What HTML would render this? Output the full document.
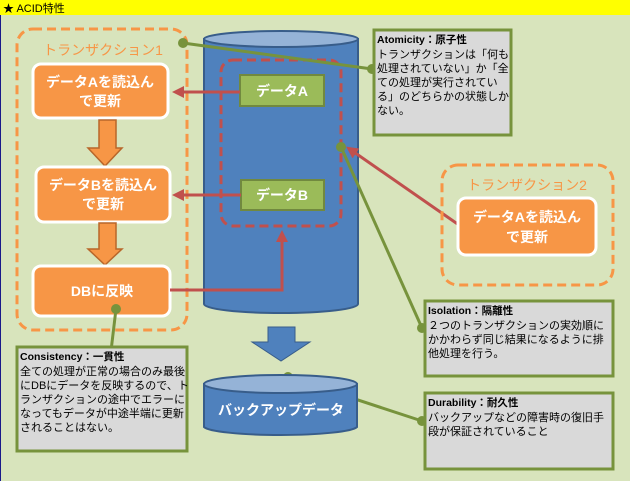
<!DOCTYPE html>
<html><head><meta charset="utf-8"><style>
html,body{margin:0;padding:0;background:#d8e4bc}
svg{display:block}
.t{font-family:"Liberation Sans","Noto Sans CJK JP",sans-serif}
</style></head><body>
<svg width="630" height="481" viewBox="0 0 630 481" class="t">
<defs>
<marker id="ar" markerWidth="4" markerHeight="4" refX="2" refY="2" orient="auto" markerUnits="strokeWidth"><path d="M0,0 L4,2 L0,4 Z" fill="#c0504d"/></marker>
</defs>
<rect x="0" y="0" width="630" height="481" fill="#d8e4bc"/>
<rect x="0" y="0" width="630" height="15" fill="#ffff00"/>
<line x1="0.5" y1="15" x2="0.5" y2="481" stroke="#1a1a8a" stroke-width="1"/>
<text x="3" y="12" font-size="11" fill="#000">★ ACID特性</text>

<!-- Transaction 1 -->
<rect x="17" y="29" width="170" height="301" rx="16" fill="none" stroke="#f79646" stroke-width="3" stroke-dasharray="9,5"/>
<text x="103" y="55" font-size="14" fill="#f79646" text-anchor="middle">トランザクション1</text>
<rect x="33" y="64" width="135" height="54" rx="8" fill="#f79646" stroke="#fff" stroke-width="3"/>
<text x="100" y="87" font-size="14" font-weight="bold" fill="#fff" text-anchor="middle">データAを読込ん</text>
<text x="100" y="106" font-size="14" font-weight="bold" fill="#fff" text-anchor="middle">で更新</text>
<path d="M99,120 H116 V148 H122 L105,166 L88,148 H99 Z" fill="#f79646" stroke="#b8662a" stroke-width="1.5"/>
<rect x="36" y="167" width="134" height="55" rx="8" fill="#f79646" stroke="#fff" stroke-width="3"/>
<text x="103" y="190" font-size="14" font-weight="bold" fill="#fff" text-anchor="middle">データBを読込ん</text>
<text x="103" y="209" font-size="14" font-weight="bold" fill="#fff" text-anchor="middle">で更新</text>
<path d="M99,223 H116 V249 H122 L105,265 L88,249 H99 Z" fill="#f79646" stroke="#b8662a" stroke-width="1.5"/>
<rect x="33" y="266" width="137" height="50" rx="8" fill="#f79646" stroke="#fff" stroke-width="3"/>
<text x="102" y="296" font-size="14" font-weight="bold" fill="#fff" text-anchor="middle">DBに反映</text>

<!-- Main cylinder -->
<path d="M204,39 V304 A77,9 0 0 0 358,304 V39 Z" fill="#4f81bd" stroke="#385d8a" stroke-width="2"/>
<ellipse cx="281" cy="39" rx="77" ry="8" fill="#95b3d7" stroke="#385d8a" stroke-width="2"/>
<rect x="221" y="60" width="120" height="166" rx="12" fill="none" stroke="#c0504d" stroke-width="3" stroke-dasharray="9,5"/>
<rect x="240" y="75" width="84" height="31" fill="#9bbb59" stroke="#71893f" stroke-width="2"/>
<text x="282" y="96" font-size="14" font-weight="bold" fill="#fff" text-anchor="middle">データA</text>
<rect x="241" y="180" width="83" height="30" fill="#9bbb59" stroke="#71893f" stroke-width="2"/>
<text x="282" y="200" font-size="14" font-weight="bold" fill="#fff" text-anchor="middle">データB</text>

<!-- red arrows -->
<line x1="240" y1="92" x2="178" y2="92" stroke="#c0504d" stroke-width="3" marker-end="url(#ar)"/>
<line x1="241" y1="195" x2="178" y2="195" stroke="#c0504d" stroke-width="3" marker-end="url(#ar)"/>
<polyline points="170,290 282,290 282,236" fill="none" stroke="#c0504d" stroke-width="3" marker-end="url(#ar)"/>
<line x1="459" y1="225" x2="351" y2="150" stroke="#c0504d" stroke-width="3" marker-end="url(#ar)"/>

<!-- Transaction 2 -->
<rect x="442" y="165" width="171" height="120" rx="16" fill="none" stroke="#f79646" stroke-width="3" stroke-dasharray="9,5"/>
<text x="527" y="190" font-size="14" fill="#f79646" text-anchor="middle">トランザクション2</text>
<rect x="458" y="198" width="138" height="57" rx="8" fill="#f79646" stroke="#fff" stroke-width="3"/>
<text x="527" y="222" font-size="14" font-weight="bold" fill="#fff" text-anchor="middle">データAを読込ん</text>
<text x="527" y="242" font-size="14" font-weight="bold" fill="#fff" text-anchor="middle">で更新</text>

<!-- Green connectors -->
<g stroke="#77933c" stroke-width="3" fill="#77933c">
<line x1="183" y1="43" x2="372" y2="69"/>
<circle cx="183" cy="43" r="3.5"/><circle cx="372" cy="69" r="3.5"/>
<line x1="341" y1="147" x2="422" y2="328"/>
<circle cx="341" cy="147" r="3.5"/><circle cx="422" cy="328" r="3.5"/>
<line x1="116" y1="309" x2="111" y2="351"/>
<circle cx="116" cy="309" r="3.5"/><circle cx="111" cy="351" r="3.5"/>
<line x1="288" y1="377" x2="422" y2="421"/>
<circle cx="288" cy="377" r="3.5"/><circle cx="422" cy="421" r="3.5"/>
</g>

<!-- Atomicity -->
<rect x="374" y="30" width="137" height="105" fill="#d9d9d9" stroke="#77933c" stroke-width="3"/>
<g font-size="11" fill="#000">
<text x="377" y="43" font-weight="bold" font-size="10.5">Atomicity：原子性</text>
<text x="377" y="58">トランザクションは「何も</text>
<text x="377" y="72">処理されていない」か「全</text>
<text x="377" y="86">ての処理が実行されてい</text>
<text x="377" y="100">る」のどちらかの状態しか</text>
<text x="377" y="114">ない。</text>
</g>

<!-- Isolation -->
<rect x="425" y="301" width="188" height="75" fill="#d9d9d9" stroke="#77933c" stroke-width="3"/>
<g font-size="11" fill="#000">
<text x="428" y="314" font-weight="bold" font-size="10.5">Isolation：隔離性</text>
<text x="428" y="329">２つのトランザクションの実効順に</text>
<text x="428" y="343">かかわらず同じ結果になるように排</text>
<text x="428" y="357">他処理を行う。</text>
</g>

<!-- Durability -->
<rect x="425" y="393" width="188" height="76" fill="#d9d9d9" stroke="#77933c" stroke-width="3"/>
<g font-size="11" fill="#000">
<text x="428" y="406" font-weight="bold" font-size="10.5">Durability：耐久性</text>
<text x="428" y="421">バックアップなどの障害時の復旧手</text>
<text x="428" y="435">段が保証されていること</text>
</g>

<!-- Consistency -->
<rect x="17" y="347" width="170" height="104" fill="#d9d9d9" stroke="#77933c" stroke-width="3"/>
<g font-size="11" fill="#000">
<text x="20" y="360" font-weight="bold" font-size="10.5">Consistency：一貫性</text>
<text x="20" y="375">全ての処理が正常の場合のみ最後</text>
<text x="20" y="389">にDBにデータを反映するので、ト</text>
<text x="20" y="403">ランザクションの途中でエラーに</text>
<text x="20" y="417">なってもデータが中途半端に更新</text>
<text x="20" y="431">されることはない。</text>
</g>

<!-- Big arrow -->
<path d="M268,327 H295 V342 H310 L281,361 L252,342 H268 Z" fill="#4f81bd" stroke="#385d8a" stroke-width="1"/>

<!-- Backup cylinder -->
<path d="M204,384 V427 A77,9 0 0 0 357,427 V384 Z" fill="#4f81bd" stroke="#385d8a" stroke-width="2"/>
<ellipse cx="280.5" cy="384" rx="76.5" ry="9" fill="#95b3d7" stroke="#385d8a" stroke-width="2"/>
<text x="281" y="415" font-size="14" font-weight="bold" fill="#fff" text-anchor="middle">バックアップデータ</text>
</svg>
</body></html>
